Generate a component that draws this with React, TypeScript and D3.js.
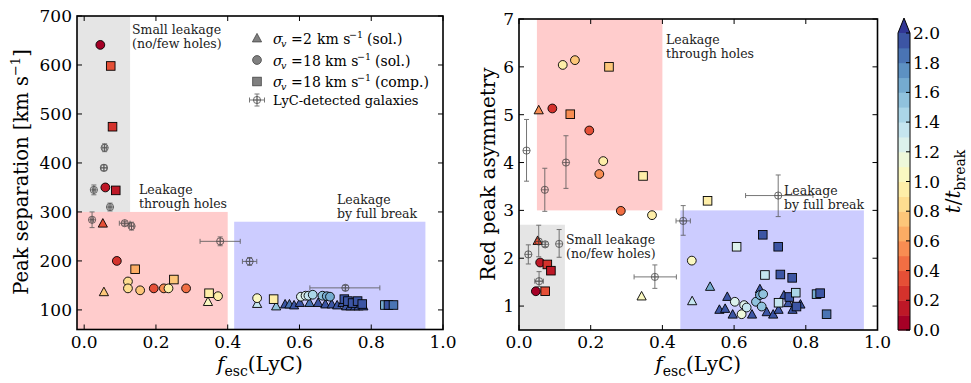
import React from 'react';
import * as d3 from 'd3';

const W = 971;
const H = 383;
const FONT = 'DejaVu Serif';

// ---------- data: [f_esc, value, t/t_break] ----------
const leftTriangles: [number, number, number][] = [
  [0.052, 277, 0.3], [0.055, 137, 0.7], [0.345, 117, 1.05], [0.482, 113, 1.3],
  [0.535, 108, 1.5], [0.56, 112, 1.9], [0.572, 112, 1.85], [0.585, 110, 1.9],
  [0.601, 115, 1.95], [0.628, 115, 1.85], [0.652, 115, 1.9], [0.672, 112, 1.9],
  [0.69, 112, 1.95], [0.705, 110, 1.9], [0.72, 115, 1.95], [0.73, 108, 1.9],
  [0.742, 108, 1.95], [0.755, 108, 1.9], [0.765, 108, 1.95], [0.778, 108, 1.95],
];
const leftCircles: [number, number, number][] = [
  [0.045, 641, 0.05], [0.059, 350, 0.15], [0.091, 200, 0.2], [0.122, 158, 0.85],
  [0.122, 144, 0.8], [0.156, 140, 0.7], [0.194, 144, 0.35], [0.222, 144, 0.55],
  [0.235, 144, 0.9], [0.284, 144, 0.45], [0.373, 128, 0.95], [0.482, 124, 1.05],
  [0.604, 127, 1.25], [0.617, 129, 1.2], [0.625, 129, 1.3], [0.637, 131, 1.4],
  [0.664, 129, 1.5], [0.676, 128, 1.6], [0.685, 127, 1.65],
];
const leftSquares: [number, number, number][] = [
  [0.074, 598, 0.35], [0.079, 474, 0.2], [0.088, 344, 0.12], [0.142, 183, 0.6],
  [0.25, 162, 0.75], [0.348, 134, 0.9], [0.528, 122, 0.95], [0.725, 122, 1.95],
  [0.735, 118, 1.9], [0.748, 114, 1.95], [0.762, 118, 1.9], [0.775, 112, 1.95],
  [0.838, 110, 1.6], [0.848, 110, 1.9], [0.862, 110, 1.8],
];
// LyC detected: [x, y, xerrLow, xerrHigh, yerrLow, yerrHigh]
const leftLyC: [number, number, number, number, number, number][] = [
  [0.057, 431, 0.005, 0.005, 8, 8], [0.055, 390, 0.008, 0.008, 6, 6],
  [0.027, 345, 0.004, 0.004, 10, 10], [0.072, 310, 0.005, 0.005, 8, 8],
  [0.022, 284, 0.004, 0.004, 16, 16], [0.113, 277, 0.015, 0.015, 4, 4],
  [0.132, 271, 0.006, 0.006, 8, 8], [0.379, 240, 0.056, 0.056, 9, 9],
  [0.461, 199, 0.02, 0.02, 8, 8], [0.728, 145, 0.099, 0.096, 5, 5],
];

const rightTriangles: [number, number, number][] = [
  [0.052, 2.37, 0.3], [0.055, 5.1, 0.55], [0.342, 1.21, 1.05], [0.483, 1.11, 1.3],
  [0.533, 1.41, 1.6], [0.581, 1.2, 1.9], [0.559, 0.93, 1.9], [0.575, 0.95, 1.95],
  [0.596, 0.83, 1.9], [0.65, 0.83, 1.95], [0.672, 1.36, 1.9], [0.691, 0.88, 1.95],
  [0.709, 0.83, 1.9], [0.724, 0.93, 1.95], [0.739, 1.23, 1.9], [0.751, 1.07, 1.95],
  [0.763, 0.93, 1.9], [0.785, 1.04, 1.95],
];
const rightCircles: [number, number, number][] = [
  [0.047, 1.31, 0.05], [0.059, 1.91, 0.15], [0.093, 5.13, 0.2], [0.122, 6.04, 0.9],
  [0.156, 6.14, 0.7], [0.196, 4.67, 0.35], [0.235, 4.03, 0.9], [0.224, 3.76, 0.55],
  [0.284, 2.99, 0.45], [0.371, 2.9, 0.95], [0.482, 1.95, 1.0], [0.602, 1.09, 1.2],
  [0.621, 0.83, 1.15], [0.628, 1.02, 1.25], [0.635, 0.97, 1.3], [0.661, 1.09, 1.5],
  [0.677, 0.99, 1.55], [0.672, 1.23, 1.6], [0.681, 1.25, 1.55],
];
const rightSquares: [number, number, number][] = [
  [0.073, 1.31, 0.35], [0.079, 1.87, 0.2], [0.089, 1.74, 0.12], [0.143, 5.01, 0.5],
  [0.251, 6.0, 0.75], [0.346, 3.72, 0.9], [0.526, 3.2, 0.95], [0.607, 2.24, 1.2],
  [0.68, 2.49, 1.95], [0.723, 2.24, 1.95], [0.686, 1.65, 1.35], [0.729, 1.66, 1.95],
  [0.762, 1.59, 1.9], [0.724, 1.07, 1.35], [0.754, 1.19, 1.9], [0.772, 1.28, 1.45],
  [0.774, 0.99, 1.95], [0.83, 1.25, 1.6], [0.84, 1.27, 1.9], [0.858, 0.83, 1.8],
];
const rightLyC: [number, number, number, number, number, number][] = [
  [0.021, 4.25, 0, 0, 0.64, 0.65], [0.131, 4.0, 0, 0, 0.54, 0.56],
  [0.072, 3.43, 0, 0, 0.45, 0.45], [0.458, 2.78, 0.02, 0.02, 0.3, 0.32],
  [0.379, 1.61, 0.058, 0.06, 0.24, 0.25], [0.026, 2.08, 0, 0, 0.2, 0.2],
  [0.055, 2.35, 0, 0, 0.32, 0.34], [0.073, 2.29, 0, 0, 0.05, 0.05],
  [0.112, 2.3, 0, 0, 0.28, 0.3], [0.056, 1.52, 0.012, 0.012, 0.11, 0.2],
  [0.723, 3.31, 0.091, 0.097, 0.44, 0.43],
];

const xTicks = [0, 0.2, 0.4, 0.6, 0.8, 1.0];
const leftYTicks = [100, 200, 300, 400, 500, 600, 700];
const rightYTicks = [1, 2, 3, 4, 5, 6, 7];
const cbarTicks = [0, 0.2, 0.4, 0.6, 0.8, 1.0, 1.2, 1.4, 1.6, 1.8, 2.0];
const legendSigmas = ['2', '18', '18'];
const legendKinds = ['(sol.)', '(sol.)', '(comp.)'];
const legendShapes = ['tri', 'circle', 'square'];

// ---------- helpers ----------
const colorOf = (t: number) => {
  const bin = Math.min(Math.floor(t / 0.1 + 1e-9), 20);
  return d3.interpolateRdYlBu(bin / 20);
};

type Pt = [number, number, number];
type Lyc = [number, number, number, number, number, number];

function Marker({ shape, cx, cy, fill, stroke = '#000', sw = 0.9 }: any) {
  if (shape === 'circle') return <circle cx={cx} cy={cy} r={4.4} fill={fill} stroke={stroke} strokeWidth={sw} />;
  if (shape === 'square') return <rect x={cx - 4.3} y={cy - 4.3} width={8.6} height={8.6} fill={fill} stroke={stroke} strokeWidth={sw} />;
  const s = 4.6;
  return <path d={`M${cx},${cy - s}L${cx - s},${cy + s * 0.85}L${cx + s},${cy + s * 0.85}Z`} fill={fill} stroke={stroke} strokeWidth={sw} />;
}

function LycMark({ cx, cy, x0, x1, y0, y1 }: any) {
  const c = '#555';
  return (
    <g opacity={0.8}>
      {x1 - x0 > 1 && (
        <g stroke={c} strokeWidth={1}>
          <line x1={x0} x2={x1} y1={cy} y2={cy} />
          <line x1={x0} x2={x0} y1={cy - 2.5} y2={cy + 2.5} />
          <line x1={x1} x2={x1} y1={cy - 2.5} y2={cy + 2.5} />
        </g>
      )}
      {y0 - y1 > 1 && (
        <g stroke={c} strokeWidth={1}>
          <line x1={cx} x2={cx} y1={y0} y2={y1} />
          <line x1={cx - 2.5} x2={cx + 2.5} y1={y0} y2={y0} />
          <line x1={cx - 2.5} x2={cx + 2.5} y1={y1} y2={y1} />
        </g>
      )}
      <circle cx={cx} cy={cy} r={3.6} fill="none" stroke="#333" strokeWidth={0.9} />
      <line x1={cx - 3.6} x2={cx + 3.6} y1={cy} y2={cy} stroke="#333" strokeWidth={0.8} />
      <line x1={cx} x2={cx} y1={cy - 3.6} y2={cy + 3.6} stroke="#333" strokeWidth={0.8} />
    </g>
  );
}

function Panel({ id, x, y, yTicks, yFmt, xFmt, regions, notes, tri, cir, sq, lyc, xTickVals }: any) {
  const [xa, xb] = x.range();
  const [yb, ya] = y.range();
  return (
    <g>
      <defs>
        <clipPath id={id}>
          <rect x={xa} y={ya} width={xb - xa} height={yb - ya} />
        </clipPath>
      </defs>
      <g clipPath={`url(#${id})`}>
        {regions.map((r: any, i: number) => (
          <rect key={i} x={x(r[0])} width={x(r[1]) - x(r[0])} y={y(r[3])} height={y(r[2]) - y(r[3])} fill={r[4]} />
        ))}
        {(tri as Pt[]).map((d, i) => <Marker key={'t' + i} shape="tri" cx={x(d[0])} cy={y(d[1])} fill={colorOf(d[2])} />)}
        {(cir as Pt[]).map((d, i) => <Marker key={'c' + i} shape="circle" cx={x(d[0])} cy={y(d[1])} fill={colorOf(d[2])} />)}
        {(sq as Pt[]).map((d, i) => <Marker key={'s' + i} shape="square" cx={x(d[0])} cy={y(d[1])} fill={colorOf(d[2])} />)}
        {(lyc as Lyc[]).map((d, i) => (
          <LycMark key={'l' + i} cx={x(d[0])} cy={y(d[1])} x0={x(d[0] - d[2])} x1={x(d[0] + d[3])} y0={y(d[1] - d[4])} y1={y(d[1] + d[5])} />
        ))}
      </g>
      {notes.map((n: any, i: number) => (
        <text key={i} x={n[0]} y={n[1]} fontFamily={FONT} fontSize={12.5} fill="#222">
          <tspan x={n[0]}>{n[2]}</tspan>
          <tspan x={n[0]} dy={14}>{n[3]}</tspan>
        </text>
      ))}
      <g stroke="#000" strokeWidth={1}>
        {xTickVals.map((t: number) => (
          <g key={'xt' + t}>
            <line x1={x(t)} x2={x(t)} y1={yb} y2={yb - 5} />
            <line x1={x(t)} x2={x(t)} y1={ya} y2={ya + 5} />
          </g>
        ))}
        {yTicks.map((t: number) => (
          <g key={'yt' + t}>
            <line x1={xa} x2={xa + 5} y1={y(t)} y2={y(t)} />
            <line x1={xb} x2={xb - 5} y1={y(t)} y2={y(t)} />
          </g>
        ))}
      </g>
      <rect x={xa} y={ya} width={xb - xa} height={yb - ya} fill="none" stroke="#000" strokeWidth={1.6} />
      {xTickVals.map((t: number) => (
        <text key={'xl' + t} x={x(t)} y={yb + 18} textAnchor="middle" fontFamily={FONT} fontSize={17}>{xFmt(t)}</text>
      ))}
      {yTicks.map((t: number) => (
        <text key={'yl' + t} x={xa - 5} y={y(t) + 6} textAnchor="end" fontFamily={FONT} fontSize={17}>{yFmt(t)}</text>
      ))}
    </g>
  );
}

export default function App() {
  const xL = d3.scaleLinear().domain([-0.02, 1.0]).range([77, 443]);
  const yL = d3.scaleLinear().domain([60, 700]).range([329.5, 16]);
  const xR = d3.scaleLinear().domain([0, 1.0]).range([519, 877.5]);
  const yR = d3.scaleLinear().domain([0.5, 7]).range([330, 19]);
  const f1 = d3.format('.1f');
  const f0 = d3.format('d');

  const GRAY = '#e5e5e5';
  const RED = '#ffcccc';
  const BLUE = '#ccccff';

  const leftRegions = [
    [-0.02, 0.128, 300, 700, GRAY],
    [-0.02, 0.4, 60, 300, RED],
    [0.418, 0.951, 60, 280, BLUE],
  ];
  const rightRegions = [
    [0.05, 0.4, 3, 7, RED],
    [0, 0.128, 0.5, 2.7, GRAY],
    [0.45, 0.962, 0.5, 3, BLUE],
  ];
  const leftNotes = [
    [132, 34, 'Small leakage', '(no/few holes)'],
    [139, 194, 'Leakage', 'through holes'],
    [337, 204, 'Leakage', 'by full break'],
  ];
  const rightNotes = [
    [666, 44, 'Leakage', 'through holes'],
    [566, 244, 'Small leakage', '(no/few holes)'],
    [784, 195, 'Leakage', 'by full break'],
  ];

  const cbX = 898;
  const cbW = 12;
  const cbY = d3.scaleLinear().domain([0, 2]).range([330, 33]);
  const bins = d3.range(20);

  const legY = [38.5, 60.5, 82];
  const legX = 257;

  return (
    <svg width={W} height={H} style={{ position: 'absolute', left: 0, top: 0, background: '#fff' }}>
      <rect width={W} height={H} fill="#fff" />
      <Panel id="clipL" x={xL} y={yL} yTicks={leftYTicks} yFmt={f0} xFmt={f1} regions={leftRegions} notes={leftNotes}
        tri={leftTriangles} cir={leftCircles} sq={leftSquares} lyc={leftLyC} xTickVals={xTicks} />
      <Panel id="clipR" x={xR} y={yR} yTicks={rightYTicks} yFmt={f0} xFmt={f1} regions={rightRegions} notes={rightNotes}
        tri={rightTriangles} cir={rightCircles} sq={rightSquares} lyc={rightLyC} xTickVals={xTicks} />

      {/* legend */}
      {legendShapes.map((shape, i) => {
        const extra = (legendSigmas[i].length - 1) * 8;
        const by = legY[i] + 5;
        return (
          <g key={i} fontFamily={FONT} fontSize={14}>
            <Marker shape={shape} cx={legX} cy={legY[i] - 0.5} fill="#808080" stroke="#444" sw={0.8} />
            <text x={273} y={by} fontStyle="italic">σ</text>
            <text x={281} y={by + 3} fontStyle="italic" fontSize={9.5}>v</text>
            <text x={291} y={by}>=</text>
            <text x={303} y={by}>{legendSigmas[i]}</text>
            <text x={317 + extra} y={by}>km s</text>
            <text x={349 + extra} y={by - 6} fontSize={9.5}>−1</text>
            <text x={367 + extra} y={by}>{legendKinds[i]}</text>
          </g>
        );
      })}
      <LycMark cx={legX} cy={100} x0={legX - 7.5} x1={legX + 7.5} y0={106} y1={94} />
      <text x={273} y={105} fontFamily={FONT} fontSize={13}>LyC-detected galaxies</text>

      {/* axis labels */}
      <text transform="translate(28,172) rotate(-90)" textAnchor="middle" fontFamily={FONT} fontSize={19.5}>
        <tspan>Peak separation [km s</tspan>
        <tspan fontSize={13} dy={-8}>−1</tspan>
        <tspan dy={8}>]</tspan>
      </text>
      <text transform="translate(495,174) rotate(-90)" textAnchor="middle" fontFamily={FONT} fontSize={20}>Red peak asymmetry</text>
      {[(77 + 443) / 2, (519 + 877.5) / 2].map((cx, i) => (
        <text key={i} x={cx} y={371} textAnchor="middle" fontFamily={FONT} fontSize={20}>
          <tspan fontStyle="italic">f</tspan>
          <tspan fontSize={14} dy={5}>esc</tspan>
          <tspan dy={-5}>(LyC)</tspan>
        </text>
      ))}

      {/* colorbar */}
      {bins.map((b) => (
        <rect key={b} x={cbX} width={cbW} y={cbY((b + 1) * 0.1)} height={cbY(b * 0.1) - cbY((b + 1) * 0.1) + 0.5}
          fill={d3.interpolateRdYlBu(b / 20)} />
      ))}
      <path d={`M${cbX},${cbY(2)}L${cbX + cbW / 2},${cbY(2) - 15}L${cbX + cbW},${cbY(2)}Z`} fill={d3.interpolateRdYlBu(1)} />
      <path d={`M${cbX},${cbY(2)}L${cbX + cbW / 2},${cbY(2) - 15}L${cbX + cbW},${cbY(2)}L${cbX + cbW},${cbY(0)}L${cbX},${cbY(0)}Z`}
        fill="none" stroke="#000" strokeWidth={1} />
      {cbarTicks.map((t) => (
        <g key={t}>
          <line x1={cbX + cbW} x2={cbX + cbW - 4} y1={cbY(t)} y2={cbY(t)} stroke="#000" strokeWidth={1} />
          <text x={cbX + cbW + 3} y={cbY(t) + 6} fontFamily={FONT} fontSize={17}>{f1(t)}</text>
        </g>
      ))}
      <text transform={`translate(960,${(cbY(0) + cbY(2)) / 2}) rotate(-90)`} textAnchor="middle" fontFamily={FONT} fontSize={20}>
        <tspan fontStyle="italic">t</tspan>
        <tspan>/</tspan>
        <tspan fontStyle="italic">t</tspan>
        <tspan fontSize={14} dy={5}>break</tspan>
      </text>
    </svg>
  );
}
